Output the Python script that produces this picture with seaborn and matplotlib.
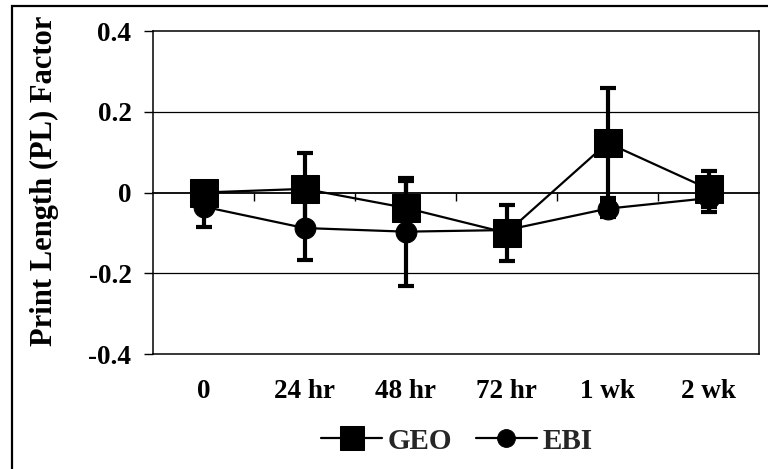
import numpy as np
import pandas as pd
import matplotlib
matplotlib.use("Agg")
import matplotlib.pyplot as plt
from matplotlib.patches import Rectangle
import seaborn as sns

# ---- data ----
categories = ["0", "24 hr", "48 hr", "72 hr", "1 wk", "2 wk"]
geo = [0.0, 0.009, -0.038, -0.100, 0.123, 0.009]
geo_err = [0.02, 0.088, 0.066, 0.07, 0.137, 0.044]
ebi = [-0.035, -0.088, -0.097, -0.093, -0.040, -0.014]
ebi_err = [0.05, 0.079, 0.134, 0.02, 0.02, 0.034]
ytick_vals = [-0.4, -0.2, 0.0, 0.2, 0.4]
ytick_labels = ["-0.4", "-0.2", "0", "0.2", "0.4"]
series_names = ["GEO", "EBI"]
ylabel = "Print Length (PL) Factor"

sns.set_theme(style="white")
plt.rcParams["font.family"] = ["Liberation Serif", "DejaVu Serif"]
plt.rcParams["font.weight"] = "bold"

W, H = 768, 469
fig = plt.figure(figsize=(W / 100, H / 100), dpi=100)
ax = fig.add_axes([153 / W, 1 - 354 / H, (759 - 153) / W, (354 - 31) / H])

pos = np.arange(len(categories))
df = pd.DataFrame({
    "pos": np.concatenate([pos, pos]),
    "value": geo + ebi,
    "err": geo_err + ebi_err,
    "series": [series_names[0]] * len(pos) + [series_names[1]] * len(pos),
})

d_ebi = df[df.series == "EBI"]
d_geo = df[df.series == "GEO"]

ax.errorbar(d_ebi.pos, d_ebi.value, yerr=d_ebi.err, fmt="none", ecolor="black",
            elinewidth=3, capsize=6, capthick=3, zorder=3)
sns.lineplot(data=d_ebi, x="pos", y="value", ax=ax, color="black", marker="o",
             markersize=15, markeredgecolor="black", linewidth=1.6, label="EBI",
             sort=False, zorder=4)
ax.errorbar(d_geo.pos, d_geo.value, yerr=d_geo.err, fmt="none", ecolor="black",
            elinewidth=3, capsize=6, capthick=3, zorder=5)
sns.lineplot(data=d_geo, x="pos", y="value", ax=ax, color="black", marker="s",
             markersize=20, markeredgecolor="black", linewidth=1.6, label="GEO",
             sort=False, zorder=6)

ax.set_xlim(-0.5, len(categories) - 0.5)
ax.set_ylim(-0.4, 0.4)
ax.set_yticks(ytick_vals)
ax.set_yticklabels(ytick_labels)
ax.set_xticks(pos)
ax.set_xticklabels(categories)
ax.set_xlabel("")
ax.tick_params(axis="x", length=0, pad=18, labelsize=19.5)
ax.tick_params(axis="y", left=True, direction="out", length=6.5, width=1,
               pad=9, labelsize=19.5, color="black")
for lab in ax.get_xticklabels() + ax.get_yticklabels():
    lab.set_fontweight("bold")
    lab.set_color("black")

for v in [-0.2, 0.2]:
    ax.axhline(v, color="black", lw=0.9, zorder=1)
for s in ax.spines.values():
    s.set_visible(True)
    s.set_color("black")
    s.set_linewidth(1.1)

# x axis line crossing at zero with category-boundary ticks
ax2 = ax.twiny()
ax2.set_xlim(ax.get_xlim())
ax2.spines["bottom"].set_position(("data", 0))
for k in ["top", "left", "right"]:
    ax2.spines[k].set_visible(False)
ax2.spines["bottom"].set_color("black")
ax2.spines["bottom"].set_linewidth(1.3)
ax2.xaxis.set_ticks_position("bottom")
ax2.set_xticks(pos[:-1] + 0.5)
ax2.tick_params(axis="x", direction="out", length=6, width=1, color="black",
                labelbottom=False, labeltop=False)
ax2.patch.set_visible(False)

ax.set_ylabel(ylabel, fontsize=22, fontweight="bold", color="black",
              va="center", ha="center")
ax.yaxis.set_label_coords((44 - 153) / (759 - 153), (354 - 181) / (354 - 31))

# legend
handles, labels = ax.get_legend_handles_labels()
order = [labels.index("GEO"), labels.index("EBI")]
ax.legend([handles[i] for i in order], [labels[i] for i in order],
          loc="center", bbox_to_anchor=(457 / W, 1 - 441 / H),
          bbox_transform=fig.transFigure, ncol=2, frameon=False,
          prop={"family": "Liberation Serif", "weight": "bold", "size": 21},
          handlelength=2.1, handletextpad=0.2, columnspacing=0.8, markerscale=0.85)

fig.add_artist(Rectangle((12 / W, -0.5), 2, 1 - 6 / H + 0.5,
                         transform=fig.transFigure, fill=False,
                         edgecolor="black", lw=1.6))

fig.savefig("out.png", dpi=100, facecolor="white")
